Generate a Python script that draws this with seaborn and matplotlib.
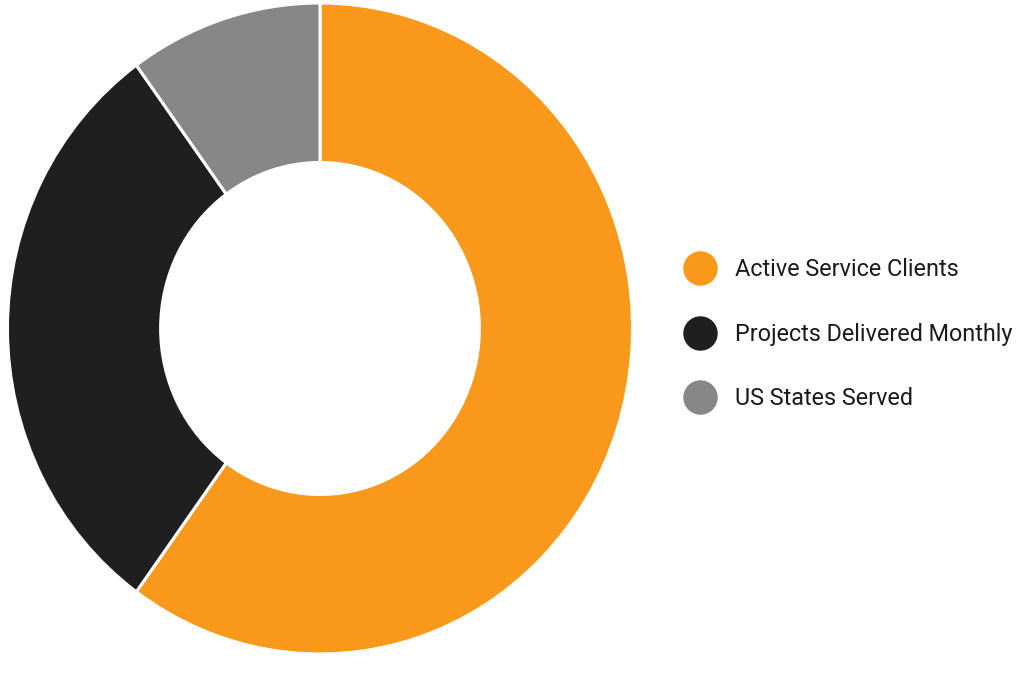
import matplotlib
matplotlib.use("Agg")
import matplotlib.pyplot as plt
from matplotlib.lines import Line2D
import seaborn as sns

# Data (share of the ring)
labels = ["Active Service Clients", "Projects Delivered Monthly", "US States Served"]
values = [60, 30, 10]
colors = ["#F8991B", "#1F1F1F", "#878787"]

sns.set_theme(style="white")
plt.rcParams["font.family"] = ["Roboto", "DejaVu Sans"]

fig = plt.figure(figsize=(10.24, 6.82), dpi=100)
fig.patch.set_facecolor("white")

# Axes box placed so the ring sits at the left like the reference
ax = fig.add_axes([0.0073, 0.0411, 0.6104, 0.9545])
wedges, _ = ax.pie(
    values,
    colors=colors,
    startangle=90,
    counterclock=False,
    radius=1.0,
    wedgeprops=dict(width=0.49, edgecolor="white", linewidth=2.2),
)
ax.set_aspect("auto")
ax.set_xlim(-1, 1)
ax.set_ylim(-1, 1)
ax.axis("off")

# Legend with round markers on the right
handles = [
    Line2D([0], [0], marker="o", linestyle="", markersize=23.8,
           markerfacecolor=c, markeredgecolor=c)
    for c in colors
]
fs = 16.8
fig.legend(
    handles, labels,
    loc="center left",
    bbox_to_anchor=(0.6724, 0.510),
    frameon=False,
    fontsize=fs,
    handlelength=1.0,
    handletextpad=1.0,
    labelspacing=1.78,
    borderpad=0,
    borderaxespad=0,
    labelcolor="#1A1A1A",
)

fig.savefig("out.png", dpi=100, facecolor="white")
